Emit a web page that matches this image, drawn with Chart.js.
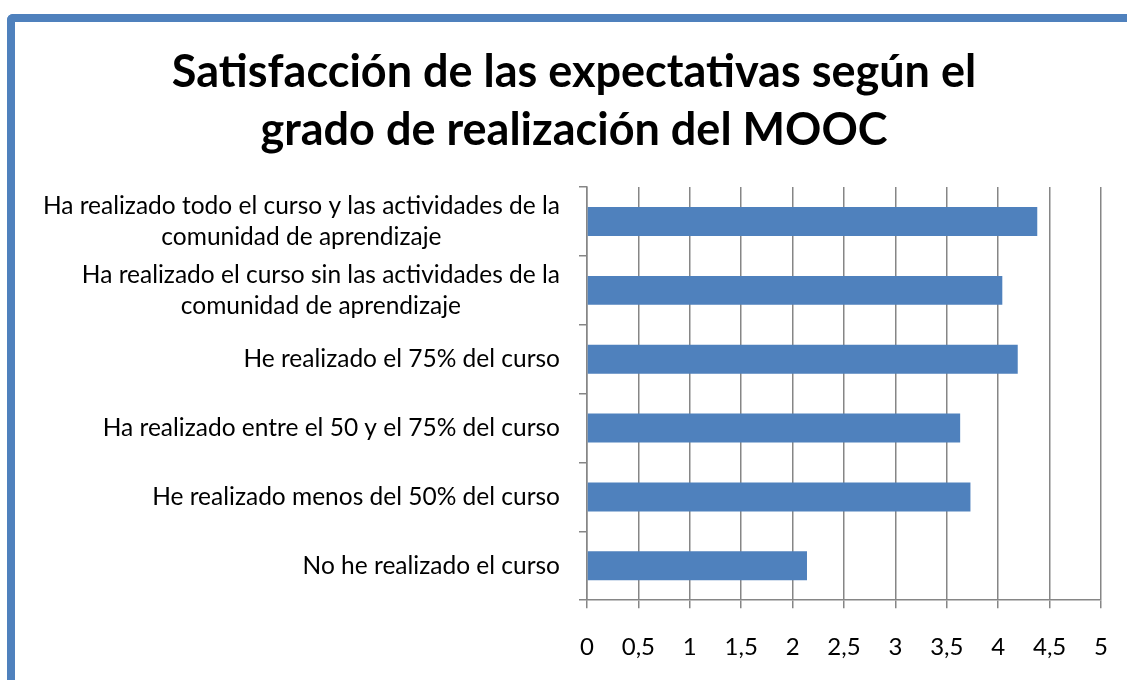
<!DOCTYPE html>
<html>
<head>
<meta charset="utf-8">
<script src="https://cdn.jsdelivr.net/npm/chart.js@4"></script>
<style>
  html, body { margin: 0; padding: 0; background: #fff; overflow: hidden; }
  #frame {
    position: absolute; left: 7px; top: 14px; width: 1200px; height: 800px;
    border-left: 8px solid #4f81bd; border-top: 8px solid #4f81bd;
    border-top-left-radius: 6px;
  }
  #wrap { position: absolute; left: 15px; top: 22px; width: 1118px; height: 682px; }
</style>
</head>
<body>
<div id="frame"></div>
<div id="wrap"><canvas id="chart"></canvas></div>
<script>
const titleLines = [
  "Satisfacción de las expectativas según el",
  "grado de realización del MOOC"
];
const categories = [
  ["Ha realizado todo el curso y las actividades de la", "comunidad de aprendizaje"],
  ["Ha realizado el curso sin las actividades de la", "comunidad de aprendizaje"],
  "He realizado el 75% del curso",
  "Ha realizado entre el 50 y el 75% del curso",
  "He realizado menos del 50% del curso",
  "No he realizado el curso"
];
const values = [4.38, 4.04, 4.19, 3.63, 3.73, 2.14];
const xTicks = [0, 0.5, 1, 1.5, 2, 2.5, 3, 3.5, 4, 4.5, 5];

const gridGray = "#868686";

// category labels: block right-aligned, lines centred inside the block
const catLabels = {
  id: "catLabels",
  afterDraw(chart) {
    const ctx = chart.ctx;
    const y = chart.scales.y;
    const right = chart.chartArea.left - 27;
    ctx.save();
    ctx.font = "24.5px Lato";
    ctx.fillStyle = "#000";
    ctx.textAlign = "center";
    ctx.textBaseline = "middle";
    chart.data.labels.forEach((lab, i) => {
      const lines = Array.isArray(lab) ? lab : [lab];
      const w = Math.max(...lines.map(l => ctx.measureText(l).width));
      const cx = right - w / 2;
      const cy = y.getPixelForValue(i);
      lines.forEach((l, j) => {
        ctx.fillText(l, cx, cy + (j - (lines.length - 1) / 2) * 31);
      });
    });
    ctx.restore();
  }
};

new Chart(document.getElementById("chart"), {
  type: "bar",
  data: {
    labels: categories,
    datasets: [{
      data: values,
      backgroundColor: "#4f81bd",
      borderWidth: 0,
      barPercentage: 0.42,
      categoryPercentage: 1
    }]
  },
  options: {
    indexAxis: "y",
    responsive: true,
    maintainAspectRatio: false,
    animation: false,
    layout: { padding: { left: 32, right: 32, top: 0, bottom: 17 } },
    plugins: {
      legend: { display: false },
      tooltip: { enabled: false },
      title: {
        display: true,
        text: titleLines,
        color: "#000",
        font: { family: "Lato", size: 45, weight: "bold", lineHeight: 1.29 },
        padding: { top: 21, bottom: 28 }
      }
    },
    scales: {
      x: {
        min: 0,
        max: 5,
        afterBuildTicks: (axis) => { axis.ticks = xTicks.map(v => ({ value: v })); },
        ticks: {
          color: "#000",
          font: { family: "Lato", size: 24 },
          padding: 25,
          callback: (v) => String(v).replace(".", ",")
        },
        grid: { color: gridGray, lineWidth: 1.5, tickLength: 8 },
        border: { color: gridGray, width: 1.5 }
      },
      y: {
        offset: true,
        afterFit: (scale) => { scale.width = 540; },
        ticks: { display: false },
        grid: { offset: true, drawOnChartArea: false, color: gridGray, lineWidth: 1.5, tickLength: 8 },
        border: { color: gridGray, width: 1.5 }
      }
    }
  },
  plugins: [catLabels]
});
</script>
</body>
</html>
